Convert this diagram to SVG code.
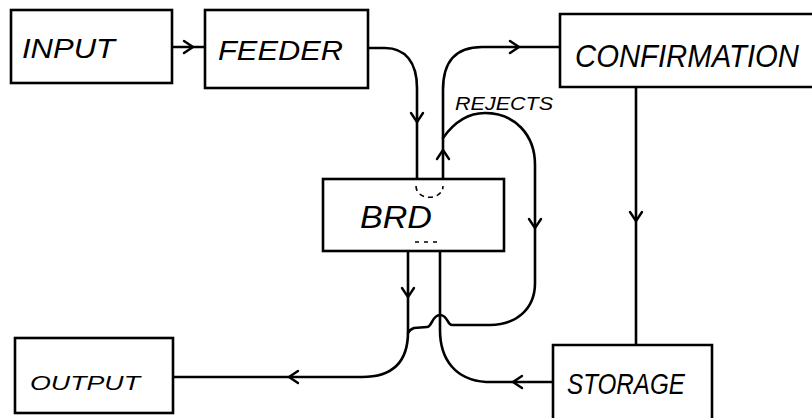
<svg xmlns="http://www.w3.org/2000/svg" xmlns:xlink="http://www.w3.org/1999/xlink" width="812" height="418" viewBox="0 0 812 418">
<style>
.box{fill:#fff;stroke:#000;stroke-width:2.6}
.ln{fill:none;stroke:#000;stroke-width:2.6;stroke-linecap:round;stroke-linejoin:round}
.chev{fill:none;stroke:#000;stroke-width:2.4;stroke-linecap:round;stroke-linejoin:round}
.lbl{font-family:"Liberation Sans",Arial,sans-serif;font-style:italic;fill:#000}
.deco{fill:none;stroke:#000;stroke-width:1.6}
</style>
<defs>
<path id="chev" class="chev" d="M-9,-6 L0,0 L-9,6"/>
</defs>
<rect width="812" height="418" fill="#fff"/>
<g id="connectors">
<path class="ln" d="M172,47 L205,47"/>
<use xlink:href="#chev" transform="translate(193,47)"/>
<path class="ln" d="M368,48 L385,48 C405,48 417,62 417,88 L417,179"/>
<use xlink:href="#chev" transform="translate(417,122) rotate(90)"/>
<path class="ln" d="M443,179 L443,90 C443,62 455,47 482,47 L560,47"/>
<use xlink:href="#chev" transform="translate(443,150) rotate(-90)"/>
<use xlink:href="#chev" transform="translate(519,47)"/>
<path class="ln" d="M443,138 C455,121 470,113 485,113 C515,113 535,135 535,165 L535,283 C535,310 515,325 490,325 L452,325 C447,325 448,315 440,315 C432,315 432,327 427,327 L414,328 C411,329 409,331 408,333"/>
<use xlink:href="#chev" transform="translate(535,228) rotate(90)"/>
<path class="ln" d="M408,251 L408,332 C408,360 395,377 362,377 L173,377"/>
<use xlink:href="#chev" transform="translate(408,297) rotate(90)"/>
<use xlink:href="#chev" transform="translate(289,377) rotate(180)"/>
<path class="ln" d="M553,382 L486,382 C456,380 440,360 440,330 L440,251"/>
<use xlink:href="#chev" transform="translate(513,382) rotate(180)"/>
<path class="ln" d="M636,87 L636,345"/>
<use xlink:href="#chev" transform="translate(636,221) rotate(90)"/>
</g>
<g id="input">
<rect class="box" x="11" y="10" width="161" height="73"/>
<text class="lbl" x="22" y="58" font-size="27" textLength="93" lengthAdjust="spacingAndGlyphs">INPUT</text>
</g>
<g id="feeder">
<rect class="box" x="205" y="10" width="163" height="78"/>
<text class="lbl" x="218" y="60" font-size="28" textLength="125" lengthAdjust="spacingAndGlyphs">FEEDER</text>
</g>
<g id="confirmation">
<path class="box" d="M812,14 L560,14 L560,87 L812,87"/>
<text class="lbl" x="575" y="67" font-size="31" textLength="224" lengthAdjust="spacingAndGlyphs">CONFIRMATION</text>
</g>
<g id="rejects-label">
<text class="lbl" x="455" y="110" font-size="19" textLength="98" lengthAdjust="spacingAndGlyphs">REJECTS</text>
</g>
<g id="brd">
<rect class="box" x="323" y="179" width="181" height="72"/>
<path class="deco" stroke-dasharray="5,4" d="M416,186 C416,201 443,201 443,186"/>
<path class="deco" stroke-dasharray="4,5" d="M415,242 L437,242"/>
<text class="lbl" x="360" y="228" font-size="31" textLength="72" lengthAdjust="spacingAndGlyphs">BRD</text>
</g>
<g id="output">
<rect class="box" x="15" y="338" width="158" height="75"/>
<text class="lbl" x="30" y="390" font-size="21" textLength="110" lengthAdjust="spacingAndGlyphs">OUTPUT</text>
</g>
<g id="storage">
<path class="box" d="M553,418 L553,345 L712,345 L712,418"/>
<text class="lbl" x="567" y="394" font-size="29" textLength="118" lengthAdjust="spacingAndGlyphs">STORAGE</text>
</g>
</svg>
